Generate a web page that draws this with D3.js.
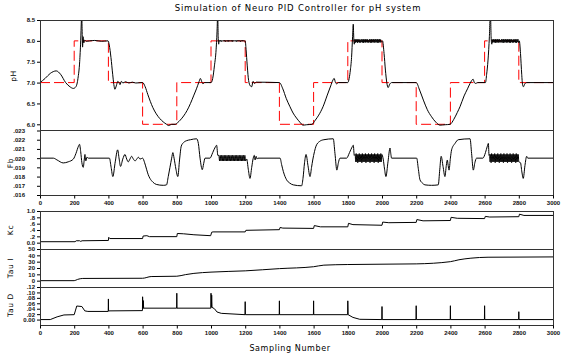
<!DOCTYPE html>
<html>
<head>
<meta charset="utf-8">
<script src="https://cdn.jsdelivr.net/npm/d3@7"></script>
<style>
  body { margin: 0; background: #fff; }
  svg { display: block; font-family: "DejaVu Sans", sans-serif; }
  .tick text { font-size: 6px; font-weight: bold; fill: #111; }
  .tick line { stroke: #000; }
</style>
</head>
<body>
<div id="chart"></div>
<script>
// ---- data ----
const sampleTicks = [0, 200, 400, 600, 800, 1000, 1200, 1400, 1600, 1800, 2000, 2200, 2400, 2600, 2800, 3000];
const phTicks = [6.0, 6.5, 7.0, 7.5, 8.0, 8.5];
const fbTicks = [0.016, 0.017, 0.018, 0.019, 0.020, 0.021, 0.022, 0.023];
const kcTicks = [0.0, 0.2, 0.4, 0.6, 0.8, 1.0];
const tauITicks = [0, 10, 20, 30, 40, 50];
const tauDTicks = [0.00, 0.02, 0.04, 0.06, 0.08, 0.10, 0.12];

// set point: one level per 200-sample block
const setpointEdges = [0, 200, 400, 600, 800, 1000, 1200, 1400, 1600, 1800, 2000, 2200, 2400, 2600, 2800, 3000];
const setpointLevels = [7.0, 8.0, 7.0, 6.0, 7.0, 8.0, 7.0, 6.0, 7.0, 8.0, 7.0, 6.0, 7.0, 8.0, 7.0, 7.0];

// measured pH  [sample, pH]
const phResponse = [
  [0,7.0],[30,7.1],[60,7.22],[95,7.28],[120,7.2],[150,7.0],[175,6.9],[195,6.86],[210,6.9],[222,7.1],[232,7.5],[238,8.0],[242,8.5],[244,8.7],[246,8.3],[249,7.85],[252,8.1],[256,7.95],[262,8.02],[270,7.99],[290,8.0],[320,8.01],[360,7.99],[398,8.0],
  [405,7.9],[415,7.6],[425,7.2],[432,6.95],[438,6.84],[446,6.92],[455,7.03],[462,7.0],[468,6.95],[476,7.03],[485,6.99],[500,7.02],[520,6.99],[540,7.01],[560,6.99],[600,7.0],
  [615,6.9],[630,6.72],[645,6.55],[660,6.4],[680,6.25],[700,6.14],[720,6.06],[740,6.0],[752,5.97],[770,6.0],[790,6.0],[805,6.04],[820,6.1],[840,6.2],[860,6.33],[880,6.5],[900,6.7],[915,6.85],[930,7.02],[938,7.1],[946,7.02],[953,6.97],[962,7.0],[1000,7.0],
  [1010,7.1],[1020,7.4],[1030,7.8],[1036,8.3],[1039,8.7],[1042,8.1],[1045,7.92]
];
const phChatter1 = [8.01,7.99,8.02,7.98,8.01,7.99,8.01,7.99,8.02,7.98,8.01,7.99,8.01,7.98,8.02,7.99,8.01,7.99,8.01,7.98,8.02,7.99,8.01,7.99,8.01,7.98,8.02,7.99,8.01,7.99,8.01,7.98,8.01,7.99,8.02,7.99,8.01,7.99];
const phResponse2 = [
  [1200,8.0],[1205,7.8],[1212,7.4],[1220,7.05],[1230,6.92],[1238,6.9],[1246,7.03],[1254,6.98],[1265,7.01],[1400,7.0],
  [1420,6.85],[1440,6.62],[1462,6.42],[1480,6.27],[1500,6.15],[1520,6.05],[1538,5.98],[1560,5.99],[1590,6.0],[1610,6.1],[1630,6.22],[1655,6.42],[1680,6.7],[1700,6.92],[1713,7.06],[1720,7.1],[1728,7.0],[1735,6.97],[1745,7.0],[1800,7.0],
  [1808,7.1],[1815,7.3],[1822,7.6],[1828,8.1],[1832,8.4],[1835,8.05],[1838,7.92]
];
const phChatter2 = [8.04,7.96,8.03,7.97,8.04,7.95,8.03,7.97,8.04,7.96,8.02,7.96,8.04,7.97,8.03,7.96,8.04,7.95,8.03,7.97,8.04,7.96,8.03,7.97,8.04,7.96,8.02,7.96,8.04,7.97,8.03,7.95,8.04,7.96,8.03,7.97,8.04,7.96,8.03,7.96,8.04,7.97,8.03,7.96,8.04,7.95,8.03,7.97,8.04,7.96,8.03,7.97];
const phResponse3 = [
  [2003,8.0],[2012,7.7],[2020,7.3],[2028,7.0],[2036,6.88],[2045,6.96],[2056,7.0],[2200,7.0],
  [2220,6.82],[2242,6.58],[2265,6.35],[2290,6.18],[2315,6.05],[2339,5.98],[2370,5.99],[2398,6.0],[2420,6.12],[2440,6.28],[2456,6.42],[2480,6.68],[2500,6.85],[2515,6.98],[2533,7.08],[2540,7.0],[2548,6.98],[2560,7.0],[2605,7.0],
  [2612,7.2],[2620,7.54],[2628,8.1],[2634,8.7],[2638,8.1],[2642,7.92]
];
const phChatter3 = [8.03,7.96,8.04,7.97,8.03,7.96,8.04,7.95,8.03,7.97,8.04,7.96,8.03,7.96,8.04,7.97,8.02,7.96,8.04,7.97,8.03,7.95,8.04,7.96,8.03,7.97,8.04,7.96,8.03,7.96,8.04,7.97,8.03,7.96,8.04,7.95,8.03,7.97,8.04,7.96,8.02,7.96,8.04,7.97,8.03,7.96,8.04,7.95,8.03,7.97,8.04,7.96];
const phResponse4 = [
  [2803,8.0],[2810,7.7],[2817,7.2],[2822,6.95],[2827,6.9],[2835,6.97],[2846,7.0],[3000,7.0]
];

// Fb  [sample, Fb]
const fbPart1 = [
  [0,0.0200],[78,0.0200],[100,0.0198],[136,0.01948],[165,0.0196],[195,0.0199],[210,0.0205],[225,0.0213],[231,0.0215],[238,0.0207],[245,0.0195],[253,0.0190],[258,0.0197],[263,0.0204],[268,0.0197],[274,0.0201],[283,0.0200],[406,0.0200],
  [416,0.0190],[426,0.0180],[440,0.0196],[454,0.0209],[463,0.0199],[471,0.0191],[484,0.0199],[497,0.0204],[507,0.0199],[516,0.0196],[526,0.0199],[536,0.0202],[546,0.0199],[556,0.0197],[566,0.0199],[575,0.0201],[585,0.0199],[600,0.0200],
  [612,0.0195],[623,0.0188],[633,0.0182],[643,0.0178],[660,0.0174],[680,0.01715],[721,0.01705],[740,0.0171],[750,0.0180],[760,0.0190],[770,0.0200],[777,0.0206],[784,0.0200],[795,0.0188],[806,0.0180],[816,0.0198],[826,0.0213],[840,0.0217],[858,0.0219],[880,0.0220],[916,0.0221],
  [926,0.0216],[936,0.0200],[949,0.01875],[957,0.0194],[965,0.0200],[994,0.0200],[1010,0.0206],[1025,0.0212],[1033,0.0214],[1040,0.0203]
];
const fbChatter1 = [0.0203,0.0197,0.0203,0.0197,0.0203,0.0197,0.0203,0.0197,0.0203,0.0197,0.0203,0.0197,0.0203,0.0197,0.0203,0.0197,0.0203,0.0197,0.0203,0.0197,0.0203,0.0197,0.0203,0.0197,0.0203,0.0197,0.0203,0.0197,0.0203,0.0197,0.0203,0.0197,0.0203,0.0197,0.0203,0.0197,0.0203,0.0197,0.0203,0.0197];
const fbPart2 = [
  [1209,0.0199],[1218,0.0188],[1228,0.0178],[1238,0.0190],[1247,0.0200],[1253,0.0203],[1258,0.0198],[1264,0.0202],[1270,0.0199],[1275,0.0200],[1404,0.0200],
  [1413,0.0193],[1423,0.01855],[1442,0.01765],[1460,0.0173],[1481,0.0171],[1530,0.0170],[1538,0.0178],[1547,0.0195],[1556,0.0204],[1567,0.0192],[1579,0.0180],[1588,0.0190],[1595,0.0198],[1605,0.0207],[1614,0.0213],[1634,0.0218],[1660,0.0220],[1715,0.0221],
  [1725,0.0205],[1736,0.0187],[1745,0.0195],[1754,0.0200],[1793,0.0200],[1810,0.0206],[1825,0.0212],[1832,0.0214],[1838,0.0203]
];
const fbChatter2 = [0.0204,0.0196,0.0205,0.0196,0.0204,0.0195,0.0204,0.0196,0.0205,0.0196,0.0204,0.0196,0.0204,0.0195,0.0205,0.0196,0.0204,0.0196,0.0204,0.0196,0.0205,0.0195,0.0204,0.0196,0.0204,0.0196,0.0205,0.0196,0.0204,0.0195,0.0204,0.0196,0.0205,0.0196,0.0204,0.0196,0.0204,0.0195,0.0205,0.0196,0.0204,0.0196,0.0204,0.0196,0.0205,0.0195,0.0204,0.0196,0.0204,0.0196,0.0205,0.0196,0.0204];
const fbPart3 = [
  [2007,0.0199],[2015,0.0188],[2023,0.0180],[2035,0.0196],[2047,0.0211],[2052,0.0204],[2056,0.0200],[2203,0.0200],
  [2212,0.0189],[2222,0.01766],[2236,0.0173],[2251,0.0171],[2290,0.01705],[2329,0.0171],[2338,0.0188],[2346,0.0202],[2357,0.0191],[2368,0.0180],[2376,0.0192],[2382,0.0198],[2387,0.0192],[2392,0.0187],[2400,0.0200],[2407,0.0209],[2427,0.0216],[2446,0.0220],[2515,0.0221],
  [2524,0.0205],[2534,0.0187],[2543,0.0195],[2553,0.0200],[2590,0.0200],[2605,0.0206],[2616,0.0213],[2622,0.0216],[2626,0.0203]
];
const fbChatter3 = [0.0204,0.0196,0.0204,0.0195,0.0205,0.0196,0.0204,0.0196,0.0204,0.0196,0.0205,0.0195,0.0204,0.0196,0.0204,0.0196,0.0205,0.0196,0.0204,0.0195,0.0204,0.0196,0.0205,0.0196,0.0204,0.0196,0.0204,0.0195,0.0205,0.0196,0.0204,0.0196,0.0204,0.0196,0.0205,0.0195,0.0204,0.0196,0.0204,0.0196,0.0205,0.0196,0.0204,0.0195,0.0204,0.0196,0.0205,0.0196,0.0204,0.0196,0.0204,0.0195,0.0205,0.0196,0.0204,0.0196,0.0204,0.0196];
const fbPart4 = [
  [2810,0.0195],[2818,0.0185],[2826,0.0178],[2836,0.0192],[2846,0.0202],[2852,0.0200],[3000,0.0200]
];

// controller gains
const kcValues = [
  [0,0.03],[205,0.03],[212,0.06],[232,0.06],[238,0.04],[246,0.06],[400,0.07],[402,0.17],[408,0.13],[600,0.13],[603,0.21],[625,0.22],[640,0.19],[800,0.19],[803,0.29],[840,0.28],[900,0.25],[998,0.22],
  [1004,0.33],[1012,0.34],[1200,0.34],[1204,0.39],[1400,0.41],[1404,0.48],[1420,0.46],[1600,0.45],[1604,0.54],[1640,0.5],[1800,0.5],[1804,0.61],[1830,0.57],[2000,0.55],
  [2004,0.65],[2040,0.63],[2200,0.64],[2204,0.73],[2240,0.69],[2400,0.70],[2404,0.80],[2440,0.77],[2600,0.76],[2604,0.83],[2630,0.81],[2800,0.82],[2804,0.90],[2830,0.86],[3000,0.86]
];
const tauIValues = [
  [0,0],[200,0],[220,2],[250,3.5],[600,3.8],[650,6.5],[800,7],[850,9.5],[900,11.5],[1000,13.5],[1200,15.5],[1400,19],[1600,22],[1660,24.5],[1800,25.5],[2000,26],[2200,26.5],[2400,30],[2450,33],[2520,35.5],[2620,37],[3000,37.5]
];
const tauDValues = [
  [0,0],[60,0],[100,0.01],[140,0.017],[200,0.018],[208,0.035],[215,0.05],[245,0.048],[262,0.032],[280,0.03],[399,0.03],[400,0.076],[401,0.032],
  [599,0.033],[600,0.084],[602,0.04],[604,0.07],[606,0.042],[799,0.042],[800,0.097],[801,0.042],[999,0.042],[1000,0.097],[1002,0.045],[1004,0.09],[1006,0.045],
  [1020,0.04],[1035,0.028],[1060,0.023],[1199,0.018],[1200,0.066],[1201,0.018],[1399,0.018],[1400,0.069],[1401,0.018],[1599,0.018],[1600,0.069],[1601,0.018],
  [1799,0.018],[1800,0.069],[1802,0.018],[1830,0.008],[1870,0.001],[1999,0],[2000,0.048],[2001,0],[2199,0],[2200,0.051],[2201,0],[2399,0],[2400,0.051],[2401,0],
  [2599,0],[2600,0.051],[2601,0],[2799,0],[2800,0.029],[2801,0],[3000,0]
];

// ---- build ----
function chatter(values, start, step) {
  return values.map((v, i) => [start + i * step, v]);
}
const phSeries = [].concat(phResponse, chatter(phChatter1, 1048, 4), phResponse2,
  chatter(phChatter2, 1842, 3), phResponse3, chatter(phChatter3, 2645, 3), phResponse4);
const fbSeries = [].concat(fbPart1, chatter(fbChatter1, 1046, 4), fbPart2,
  chatter(fbChatter2, 1843, 3), fbPart3, chatter(fbChatter3, 2629, 3), fbPart4);
const setpointSeries = setpointEdges.map((s, i) => [s, setpointLevels[i]]);

const width = 565, height = 354;
const left = 40, right = 553;

const svg = d3.select("#chart").append("svg")
  .attr("width", width)
  .attr("height", height);

const x = d3.scaleLinear().domain([0, 3000]).range([left, right]);

const stripZero = f => d => d === 0 ? f(d) : f(d).replace(/^0\./, ".");

const panels = [
  { key: "ph", label: "pH", top: 20, bottom: 130, y: d3.scaleLinear().domain([6, 8.5]).range([124.3, 20]),
    ticks: phTicks, fmt: d3.format(".1f"), labelDx: 0, titleX: 14, titleY: 76 },
  { key: "fb", label: "Fb", top: 130, bottom: 195, y: d3.scaleLinear().domain([0.016, 0.023]).range([195, 130.5]),
    ticks: fbTicks, fmt: stripZero(d3.format(".3f")), labelDx: -10, titleX: 11, titleY: 163 },
  { key: "kc", label: "Kc", top: 211, bottom: 249, y: d3.scaleLinear().domain([-0.2, 1.0]).range([249, 211]),
    ticks: kcTicks, fmt: stripZero(d3.format(".1f")), labelDx: 0, titleX: 11, titleY: 230 },
  { key: "tauI", label: "Tau I", top: 249, bottom: 287, y: d3.scaleLinear().domain([-10, 50]).range([287, 249]),
    ticks: tauITicks, fmt: d3.format("d"), labelDx: 0, titleX: 11, titleY: 268 },
  { key: "tauD", label: "Tau D", top: 287, bottom: 325, y: d3.scaleLinear().domain([-0.02, 0.12]).range([325, 287]),
    ticks: tauDTicks, fmt: stripZero(d3.format(".2f")), labelDx: 0, titleX: 11, titleY: 305 }
];

const byKey = {};
panels.forEach(p => {
  byKey[p.key] = p;
  svg.append("clipPath").attr("id", "clip-" + p.key)
    .append("rect")
    .attr("x", left).attr("y", p.top)
    .attr("width", right - left).attr("height", p.bottom - p.top);

  const ax = svg.append("g")
    .attr("transform", `translate(${left},0)`)
    .call(d3.axisLeft(p.y).tickValues(p.ticks).tickSize(3).tickPadding(2).tickFormat(p.fmt));
  ax.select(".domain").remove();
  ax.selectAll("text").attr("dx", p.labelDx);

  svg.append("text")
    .attr("transform", `translate(${p.titleX},${p.titleY}) rotate(-90)`)
    .attr("text-anchor", "middle")
    .attr("dominant-baseline", "middle")
    .style("font-size", "7.5px")
    .style("letter-spacing", "0.6px")
    .text(p.label);
});

function drawLine(p, data, color, dash, curve) {
  svg.append("path")
    .datum(data)
    .attr("clip-path", `url(#clip-${p.key})`)
    .attr("fill", "none")
    .attr("stroke", color)
    .attr("stroke-width", 1)
    .attr("stroke-dasharray", dash)
    .attr("d", d3.line().x(d => x(d[0])).y(d => p.y(d[1])).curve(curve));
}

drawLine(byKey.ph, setpointSeries, "#ff0000", "10,4", d3.curveStepAfter);
drawLine(byKey.ph, phSeries, "#000", null, d3.curveMonotoneX);
drawLine(byKey.fb, fbSeries, "#000", null, d3.curveMonotoneX);
drawLine(byKey.kc, kcValues, "#000", null, d3.curveLinear);
drawLine(byKey.tauI, tauIValues, "#000", null, d3.curveMonotoneX);
drawLine(byKey.tauD, tauDValues, "#000", null, d3.curveLinear);

// frames
panels.forEach(p => {
  svg.append("rect")
    .attr("x", left + 0.5).attr("y", Math.round(p.top) + 0.5)
    .attr("width", right - left).attr("height", p.bottom - p.top)
    .attr("fill", "none")
    .attr("stroke", "#333")
    .attr("stroke-width", 1);
});

// sample axes under Fb and Tau D
[byKey.fb.bottom, byKey.tauD.bottom].forEach(yPos => {
  const ax = svg.append("g")
    .attr("transform", `translate(0,${yPos + 0.5})`)
    .call(d3.axisBottom(x).tickValues(sampleTicks).tickSize(3).tickPadding(2).tickFormat(d3.format("d")));
  ax.select(".domain").remove();
});

svg.append("text")
  .attr("x", 298).attr("y", 11)
  .attr("text-anchor", "middle")
  .style("font-size", "8.5px")
  .style("letter-spacing", "0.8px")
  .text("Simulation of Neuro PID Controller for pH system");

svg.append("text")
  .attr("x", 290).attr("y", 351)
  .attr("text-anchor", "middle")
  .style("font-size", "8px")
  .style("letter-spacing", "0.6px")
  .text("Sampling Number");
</script>
</body>
</html>
